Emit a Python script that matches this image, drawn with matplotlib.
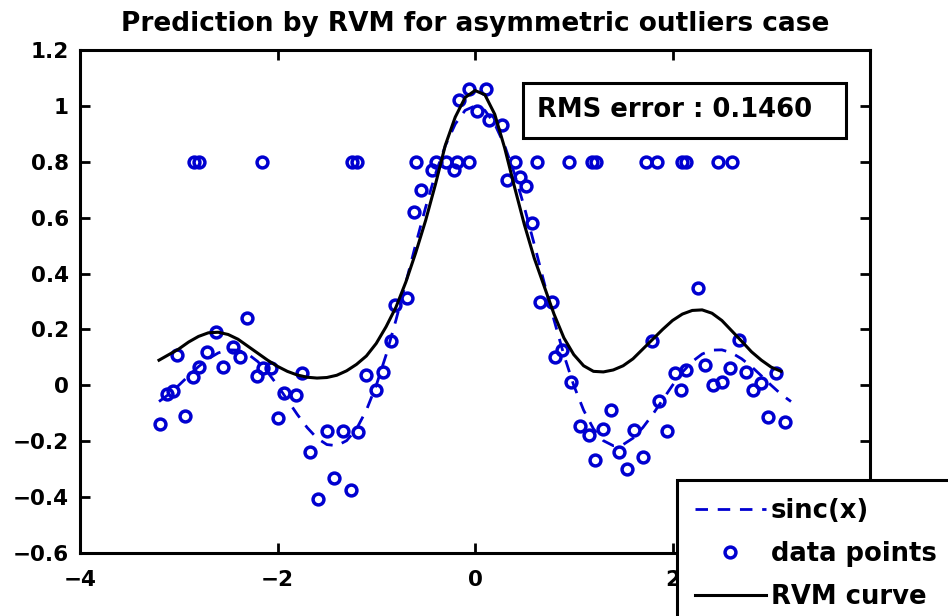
import matplotlib
matplotlib.use("Agg")
import matplotlib.pyplot as plt
from matplotlib.patches import Rectangle

# sinc(x) reference curve
sinc_x = [-3.2, -3.1, -3.0, -2.9, -2.8, -2.7, -2.6, -2.5, -2.4, -2.3, -2.2, -2.1,
          -2.0, -1.9, -1.8, -1.7, -1.6, -1.5, -1.4, -1.3, -1.2, -1.1, -1.0, -0.9,
          -0.8, -0.7, -0.6, -0.5, -0.4, -0.3, -0.2, -0.1, 0.0, 0.1, 0.2, 0.3, 0.4,
          0.5, 0.6, 0.7, 0.8, 0.9, 1.0, 1.1, 1.2, 1.3, 1.4, 1.5, 1.6, 1.7, 1.8,
          1.9, 2.0, 2.1, 2.2, 2.3, 2.4, 2.5, 2.6, 2.7, 2.8, 2.9, 3.0, 3.1, 3.2]
sinc_y = [-0.058, -0.032, 0.0, 0.034, 0.067, 0.095, 0.116, 0.127, 0.126, 0.112,
          0.085, 0.047, 0.0, -0.052, -0.104, -0.151, -0.189, -0.212, -0.216,
          -0.198, -0.156, -0.089, 0.0, 0.109, 0.234, 0.368, 0.505, 0.637, 0.757,
          0.858, 0.935, 0.984, 1.0, 0.984, 0.935, 0.858, 0.757, 0.637, 0.505,
          0.368, 0.234, 0.109, 0.0, -0.089, -0.156, -0.198, -0.216, -0.212,
          -0.189, -0.151, -0.104, -0.052, 0.0, 0.047, 0.085, 0.112, 0.126, 0.127,
          0.116, 0.095, 0.067, 0.034, 0.0, -0.032, -0.058]

# noisy training samples (including the outliers at 0.8)
data_x = [-3.19, -3.12, -3.06, -3.02, -2.94, -2.86, -2.79, -2.71, -2.62, -2.55,
          -2.45, -2.38, -2.31, -2.21, -2.15, -2.07, -1.99, -1.93, -1.81, -1.75,
          -1.67, -1.59, -1.50, -1.43, -1.34, -1.26, -1.18, -1.10, -1.00, -0.93,
          -0.85, -0.81, -0.69,
          -0.62, -0.55, -0.44, -0.21, -0.16, -0.06, 0.02, 0.11, 0.14, 0.27, 0.32,
          0.46, 0.52, 0.58,
          0.66, 0.78, 0.81, 0.88, 0.97, 1.06, 1.15, 1.22, 1.30, 1.38, 1.46, 1.54,
          1.61, 1.70, 1.79, 1.86, 1.94, 2.03, 2.09, 2.14, 2.26, 2.33, 2.41, 2.50,
          2.58, 2.67, 2.74, 2.82, 2.90, 2.97, 3.05, 3.14,
          -2.85, -2.80, -2.16, -1.25, -1.20, -0.60, -0.40, -0.29, -0.18, -0.06,
          0.41, 0.63, 0.95, 1.18, 1.23, 1.73, 1.84, 2.10, 2.14, 2.46, 2.60]
data_y = [-0.14, -0.03, -0.02, 0.11, -0.11, 0.03, 0.065, 0.12, 0.19, 0.065,
          0.137, 0.10, 0.24, 0.035, 0.062, 0.062, -0.117, -0.027, -0.035, 0.044,
          -0.238, -0.405, -0.165, -0.331, -0.163, -0.374, -0.167, 0.037, -0.017,
          0.046, 0.158, 0.288, 0.313,
          0.62, 0.70, 0.77, 0.77, 1.02, 1.06, 0.98, 1.06, 0.95, 0.93, 0.735,
          0.745, 0.715, 0.58,
          0.298, 0.298, 0.10, 0.127, 0.012, -0.146, -0.178, -0.267, -0.157,
          -0.088, -0.238, -0.30, -0.16, -0.256, 0.16, -0.056, -0.165, 0.044,
          -0.017, 0.055, 0.348, 0.073, 0.0, 0.012, 0.062, 0.162, 0.048, -0.017,
          0.008, -0.113, 0.044, -0.131,
          0.8, 0.8, 0.8, 0.8, 0.8, 0.8, 0.8, 0.8, 0.8, 0.8,
          0.8, 0.8, 0.8, 0.8, 0.8, 0.8, 0.8, 0.8, 0.8, 0.8, 0.8]

# RVM predictive mean
rvm_x = [-3.2, -3.1, -3.0, -2.9, -2.8, -2.7, -2.6, -2.5, -2.4, -2.3, -2.2, -2.1,
         -2.0, -1.9, -1.8, -1.7, -1.6, -1.5, -1.4, -1.3, -1.2, -1.1, -1.0, -0.9,
         -0.8, -0.7, -0.6, -0.5, -0.4, -0.3, -0.2, -0.1, 0.0, 0.1, 0.2, 0.3, 0.4,
         0.5, 0.6, 0.7, 0.8, 0.9, 1.0, 1.1, 1.2, 1.3, 1.4, 1.5, 1.6, 1.7, 1.8,
         1.9, 2.0, 2.1, 2.2, 2.3, 2.4, 2.5, 2.6, 2.7, 2.8, 2.9, 3.0, 3.1]
rvm_y = [0.09, 0.11, 0.13, 0.155, 0.175, 0.188, 0.19, 0.182, 0.165, 0.14, 0.115,
         0.09, 0.068, 0.05, 0.037, 0.029, 0.026, 0.028, 0.036, 0.052, 0.075,
         0.105, 0.15, 0.21, 0.28, 0.37, 0.475, 0.59, 0.72, 0.86, 0.96, 1.03,
         1.055, 1.04, 0.97, 0.85, 0.71, 0.575, 0.455, 0.355, 0.255, 0.17, 0.11,
         0.07, 0.05, 0.048, 0.055, 0.07, 0.095, 0.13, 0.165, 0.2, 0.232, 0.255,
         0.268, 0.27, 0.258, 0.232, 0.195, 0.158, 0.12, 0.09, 0.065, 0.05]

x_ticks = [-4, -2, 0, 2, 4]
y_ticks = [-0.6, -0.4, -0.2, 0, 0.2, 0.4, 0.6, 0.8, 1, 1.2]
y_tick_labels = ["-0.6", "-0.4", "-0.2", "0", "0.2", "0.4", "0.6", "0.8", "1", "1.2"]
rms_text = "RMS error : 0.1460"
title_text = "Prediction by RVM for asymmetric outliers case"

plt.rcParams["font.family"] = ["DejaVu Sans"]
plt.rcParams["font.weight"] = "bold"
plt.rcParams["axes.unicode_minus"] = True

fig = plt.figure(figsize=(9.48, 6.16), dpi=100)
ax = fig.add_axes([80 / 948, 1 - 553 / 616, 790 / 948, 503 / 616])

blue = "#0000d0"
ax.plot(sinc_x, sinc_y, color=blue, lw=2.0, dashes=(4.5, 3.5), label="sinc(x)")
ax.plot(data_x, data_y, linestyle="none", marker="o", markersize=7.8,
        markerfacecolor="none", markeredgecolor=blue, markeredgewidth=2.5,
        label="data points")
ax.plot(rvm_x, rvm_y, color="black", lw=2.2, label="RVM curve")

ax.set_xlim(-4, 4)
ax.set_ylim(-0.6, 1.2)
ax.set_xticks(x_ticks)
ax.set_yticks(y_ticks)
ax.set_yticklabels([s.replace("-", "\u2212") for s in y_tick_labels])
ax.tick_params(direction="in", length=7, width=2, top=True, right=True,
               labelsize=15.5, pad=8)
ax.tick_params(axis="x", pad=12)
for lab in ax.get_xticklabels() + ax.get_yticklabels():
    lab.set_fontweight("bold")
for sp in ax.spines.values():
    sp.set_linewidth(2.2)

ax.set_title(title_text, fontsize=19, fontweight="bold", pad=14)

# boxed RMS annotation
ax.add_patch(Rectangle((0.561, 0.825), 0.409, 0.109, transform=ax.transAxes,
                       facecolor="white", edgecolor="black", lw=2.2, zorder=5))
ax.text(0.579, 0.880, rms_text, transform=ax.transAxes, ha="left", va="center",
        fontsize=18.6, fontweight="bold", zorder=6)

leg = fig.legend(loc="upper left", bbox_to_anchor=(677 / 948, 1 - 480 / 616),
                 bbox_transform=fig.transFigure, borderaxespad=0,
                 prop={"weight": "bold", "size": 18.6},
                 handlelength=2.75, handletextpad=0.2, labelspacing=0.66,
                 borderpad=0.68, numpoints=1, fancybox=False, framealpha=1,
                 edgecolor="black")
leg.get_frame().set_linewidth(2.2)

fig.savefig("out.png", dpi=100)
